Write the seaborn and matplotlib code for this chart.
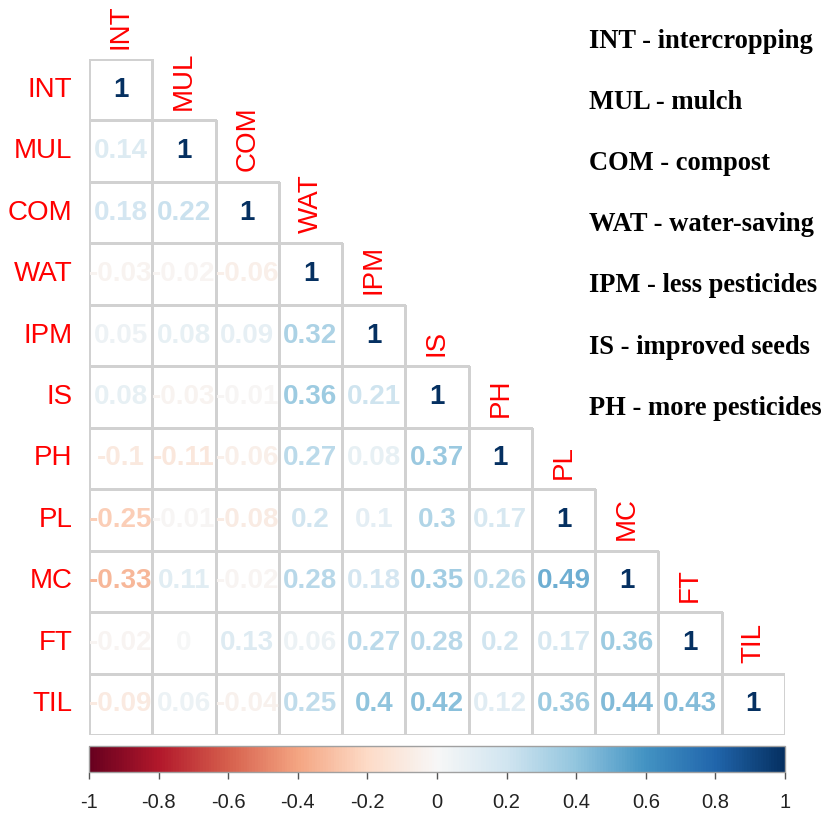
import numpy as np
import pandas as pd
import matplotlib
matplotlib.use('Agg')
import matplotlib.pyplot as plt
import seaborn as sns
from matplotlib.colors import ListedColormap, Normalize

# variable codes and what they stand for
labels = ['INT', 'MUL', 'COM', 'WAT', 'IPM', 'IS', 'PH', 'PL', 'MC', 'FT', 'TIL']
legend_names = ['intercropping', 'mulch', 'compost', 'water-saving',
                'less pesticides', 'improved seeds', 'more pesticides']

# lower triangle of the correlation matrix, row by row
row_INT = [1]
row_MUL = [0.14, 1]
row_COM = [0.18, 0.22, 1]
row_WAT = [-0.03, -0.02, -0.06, 1]
row_IPM = [0.05, 0.08, 0.09, 0.32, 1]
row_IS = [0.08, -0.03, -0.01, 0.36, 0.21, 1]
row_PH = [-0.1, -0.11, -0.06, 0.27, 0.08, 0.37, 1]
row_PL = [-0.25, -0.01, -0.08, 0.2, 0.1, 0.3, 0.17, 1]
row_MC = [-0.33, 0.11, -0.02, 0.28, 0.18, 0.35, 0.26, 0.49, 1]
row_FT = [-0.02, 0, 0.13, 0.06, 0.27, 0.28, 0.2, 0.17, 0.36, 1]
row_TIL = [-0.09, 0.06, -0.04, 0.25, 0.4, 0.42, 0.12, 0.36, 0.44, 0.43, 1]

cbar_ticks = [-1, -0.8, -0.6, -0.4, -0.2, 0, 0.2, 0.4, 0.6, 0.8, 1]

rows = [row_INT, row_MUL, row_COM, row_WAT, row_IPM, row_IS,
        row_PH, row_PL, row_MC, row_FT, row_TIL]
n = len(labels)
mat = np.full((n, n), np.nan)
for i, r in enumerate(rows):
    mat[i, :len(r)] = r
corr = pd.DataFrame(mat, index=labels, columns=labels)
mask = np.isnan(mat)
annot = np.array([[f'{v:g}' if not np.isnan(v) else '' for v in r] for r in mat])

sns.set_style('white')
plt.rcParams['font.family'] = ['Liberation Sans', 'DejaVu Sans']

fig = plt.figure(figsize=(8.26, 8.14), dpi=100)
ax = fig.add_axes([89/826, 1 - 735/814, 696/826, 676/814])

grid_col = (0.82, 0.82, 0.82, 1)
sns.heatmap(corr, mask=mask, cmap=ListedColormap(['white']), cbar=False,
            annot=annot, fmt='', annot_kws={'fontsize': 20, 'fontweight': 'bold'},
            linewidths=1.0, linecolor=grid_col, ax=ax)

# hide cell borders of the masked upper triangle
mesh = ax.collections[0]
edge_cols = [(0, 0, 0, 0) if m else grid_col for m in mask.ravel()]
mesh.set_edgecolors(edge_cols)

# colour numbers by their value, corrplot style
cmap = plt.get_cmap('RdBu')
norm = Normalize(-1, 1)
vals = mat[~mask]
for t, v in zip(ax.texts, vals):
    t.set_color(cmap(norm(v)))

ax.set_xticks([])
ax.set_yticklabels(labels, rotation=0, color='red', fontsize=20)
ax.tick_params(axis='y', length=0, pad=12)
ax.set_xlabel('')
ax.set_ylabel('')

# column labels sitting above the diagonal
for j, lab in enumerate(labels):
    ax.text(j + 0.5, j - 0.17, lab, rotation=90, ha='center', va='bottom',
            color='red', fontsize=20, clip_on=False)

# colour bar
cax = fig.add_axes([89/826, 1 - 772/814, 696/826, 26/814])
sm = plt.cm.ScalarMappable(norm=norm, cmap=cmap)
sm.set_array([])
cb = fig.colorbar(sm, cax=cax, orientation='horizontal', ticks=cbar_ticks)
cb.set_ticklabels([f'{t:g}' for t in cbar_ticks])
cb.outline.set_edgecolor('#a0a0a0')
cb.outline.set_linewidth(1)
cax.tick_params(length=5, width=1, color='#555555', labelsize=14.5, pad=10,
                labelcolor='#222222')

# legend of abbreviations
for k, name in enumerate(legend_names):
    fig.text(589/826, 1 - (48 + 61.1*k)/814, f'{labels[k]} - {name}',
             ha='left', va='baseline', fontsize=19.1, fontweight='bold',
             family=['Liberation Serif', 'DejaVu Serif'], color='black')

fig.savefig('out.png', dpi=100)
